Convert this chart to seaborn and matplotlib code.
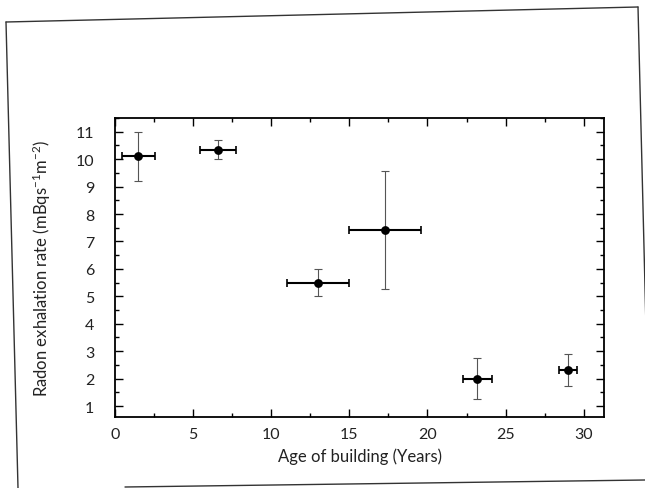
import matplotlib
matplotlib.use("Agg")
import matplotlib.pyplot as plt
import seaborn as sns
from matplotlib.lines import Line2D
from matplotlib.ticker import MultipleLocator

# Values
age_years = [1.5, 6.6, 13.0, 17.3, 23.2, 29.0]
exhalation_rate = [10.1, 10.35, 5.5, 7.4, 2.0, 2.3]
age_err = [1.05, 1.15, 2.0, 2.3, 0.9, 0.6]
rate_err = [0.88, 0.33, 0.48, 2.15, 0.75, 0.58]

x_ticks = [0, 5, 10, 15, 20, 25, 30]
y_ticks = [1, 2, 3, 4, 5, 6, 7, 8, 9, 10, 11]

sns.set_theme(style="ticks")
plt.rcParams["font.family"] = ["Lato", "DejaVu Sans"]
plt.rcParams["mathtext.default"] = "regular"

W, H = 645, 489
fig = plt.figure(figsize=(W / 100, H / 100), dpi=100)
ax = fig.add_axes([115 / W, 1 - 418 / H, 489 / W, 299 / H])

# vertical error bars: thin grey
ax.errorbar(age_years, exhalation_rate, yerr=rate_err, fmt="none",
            ecolor="#555555", elinewidth=0.8, capsize=3, capthick=0.8)
# horizontal error bars: heavier black
ax.errorbar(age_years, exhalation_rate, xerr=age_err, fmt="none",
            ecolor="black", elinewidth=1.5, capsize=3, capthick=1.2)
sns.scatterplot(x=age_years, y=exhalation_rate, ax=ax, color="black",
                s=40, edgecolor="black", linewidth=0, zorder=5)

ax.set_xlim(0, 31.3)
ax.set_ylim(0.6, 11.5)
ax.set_xticks(x_ticks)
ax.set_yticks(y_ticks)
ax.xaxis.set_minor_locator(MultipleLocator(2.5))
ax.yaxis.set_minor_locator(MultipleLocator(0.5))
ax.tick_params(which="both", direction="in", top=True, right=True,
               colors="black", labelcolor="#222222", labelsize=11.5, width=1.0)
ax.tick_params(which="major", length=6)
ax.tick_params(axis="x", which="major", pad=7)
ax.tick_params(axis="y", which="major", pad=15)
ax.tick_params(which="minor", length=3)
for s in ax.spines.values():
    s.set_visible(True)
    s.set_color("black")
    s.set_linewidth(1.3)

ax.set_xlabel("Age of building (Years)", fontsize=12, color="#222222", labelpad=5)
ax.set_ylabel("Radon exhalation rate (mBqs$^{-1}$m$^{-2}$)", fontsize=12,
              color="#222222", labelpad=16)

# scanned page border
def px(x, y):
    return x / W, 1 - y / H

for (x0, y0), (x1, y1) in [((6, 23), (638, 8)), ((6, 23), (18, 489)),
                           ((638, 8), (650, 489)), ((125, 488), (645, 481))]:
    fig.add_artist(Line2D(*zip(px(x0, y0), px(x1, y1)), transform=fig.transFigure,
                          color="#333333", linewidth=1.0))

fig.savefig("out.png", dpi=100, facecolor="white")
